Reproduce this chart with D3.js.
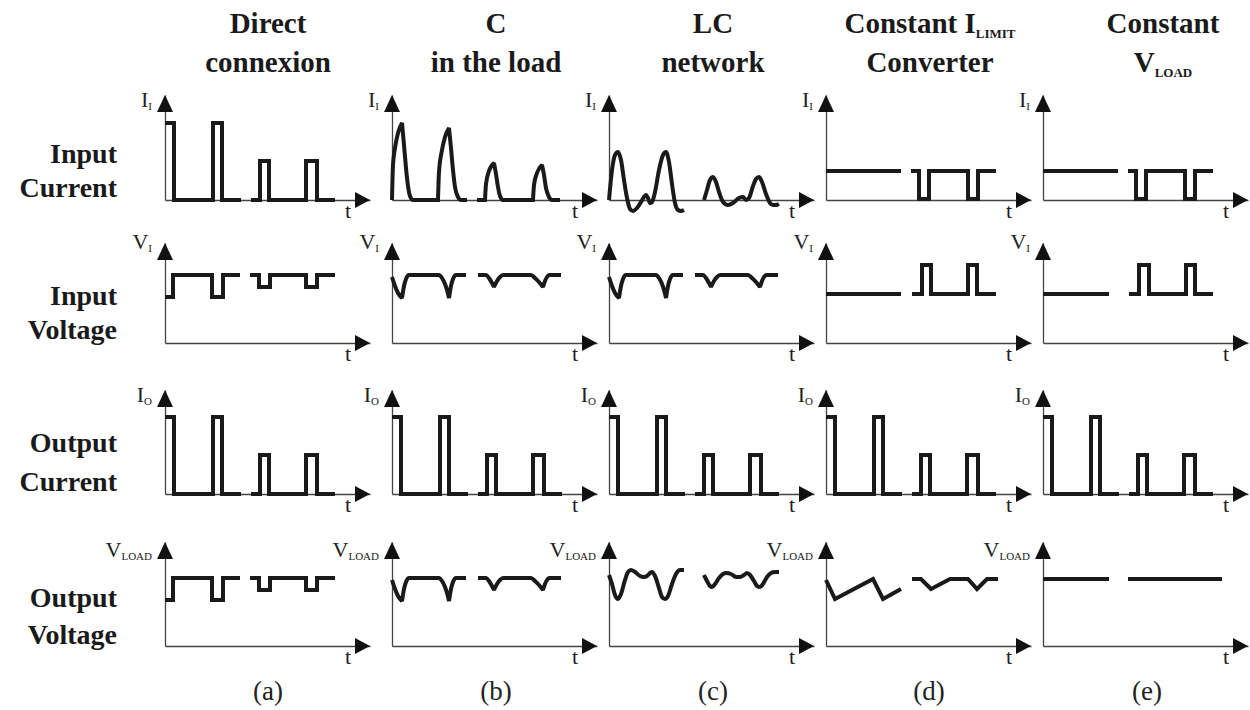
<!DOCTYPE html>
<html><head><meta charset="utf-8">
<script src="https://cdn.jsdelivr.net/npm/d3@7"></script>
<style>body{margin:0;background:#fff}</style>
</head><body><svg id="c" width="1250" height="710"></svg>
<script>
// ---------- data (offset along t, level, optional cusp flag) ----------
const columnTitles = [
  [["Direct",""],["connexion",""]],
  [["C",""],["in the load",""]],
  [["LC",""],["network",""]],
  [["Constant I","LIMIT"],["Converter",""]],
  [["Constant",""],["V","LOAD"]]
];
const rowTitles = [["Input","Current"],["Input","Voltage"],["Output","Current"],["Output","Voltage"]];
const yLabels = [["I","I"],["V","I"],["I","O"],["V","LOAD"]];
const panelLetters = ["(a)","(b)","(c)","(d)","(e)"];
const timeLabel = "t";

const pulseCurrent = [
  [[0,77],[9,77],[9,0],[48,0],[48,77],[57,77],[57,0],[76,0]],
  [[86,0],[95,0],[95,39],[104,39],[104,0],[141,0],[141,39],[152,39],[152,0],[170,0]]
];
const stepVoltage = [
  [[0,46],[8,46],[8,68],[47,68],[47,46],[58,46],[58,68],[75,68]],
  [[85,68],[94,68],[94,56],[105,56],[105,68],[141,68],[141,56],[152,56],[152,68],[170,68]]
];
const capCurrent = [
  [[0,0,1],[1,35],[3,52],[6,67],[10,77,1],[12,55],[14,32],[16,14],[18,4],[21,0],[46,0,1],[47,28],[50,50],[53,63],[57,72,1],[59,52],[61,30],[63,13],[66,3],[69,0],[75,0]],
  [[85,0],[93,0,1],[94,16],[97,29],[102,37,1],[104,26],[106,13],[108,4],[111,0],[141,0,1],[142,15],[145,27],[150,35,1],[152,25],[154,12],[157,3],[160,0],[168,0]]
];
const capVoltage = [
  [[0,66],[3,57],[6,50],[10,45,1],[12,57],[14,64],[17,68],[47,68],[50,65],[53,59],[55,53],[57,45,1],[59,57],[61,64],[64,68],[74,68]],
  [[86,68],[94,68],[97,65],[100,60],[102,56,1],[105,62],[108,66],[111,68],[139,68],[143,65],[147,61],[151,56,1],[153,62],[155,66],[157,68],[169,68]]
];
const lcCurrent = [
  [[0,0],[3,30],[6,45],[9,48],[12,40],[15,20],[18,2],[21,-9],[24,-11],[28,-8],[32,-2],[35,3],[37,5],[39,2],[41,-3],[43,-2],[46,8],[50,30],[54,45],[57,48],[60,38],[63,16],[66,-3],[69,-10],[72,-11],[75,-10]],
  [[95,0],[98,10],[101,20],[104,23],[107,18],[110,8],[114,-2],[119,-5],[124,-3],[130,2],[134,3],[137,0],[140,2],[144,14],[147,21],[150,23],[153,18],[157,6],[161,-3],[164,-5],[167,-5],[170,-4]]
];
const lcVoltage = [
  [[0,71],[3,62],[6,51],[9,47],[12,52],[16,66],[19,74],[22,76],[26,74],[31,70],[35,69],[38,70],[41,73],[43,74],[46,70],[50,58],[53,49],[56,47],[59,50],[63,62],[67,72],[71,76],[75,76]],
  [[95,71],[98,65],[101,60],[103,59],[106,62],[110,68],[114,72],[117,73],[122,72],[127,69],[131,69],[135,71],[138,73],[141,71],[145,65],[148,60],[151,59],[154,62],[158,69],[162,73],[166,74],[170,74]]
];
const limitCurrent = [
  [[0,29],[75,29]],
  [[85,29],[93,29],[93,1],[103,1],[103,29],[142,29],[142,1],[152,1],[152,29],[170,29]]
];
const limitVoltage = [
  [[0,49],[75,49]],
  [[86,49],[96,49],[96,78],[105,78],[105,49],[142,49],[142,78],[151,78],[151,49],[170,49]]
];
const limitLoadVoltage = [
  [[0,66],[9,47],[47,67],[57,47],[75,57]],
  [[86,67],[95,67],[105,57],[124,67],[142,67],[151,57],[161,67],[172,67]]
];
const constInputVoltage = [
  [[0,49],[66,49]],
  [[86,49],[96,49],[96,78],[106,78],[106,49],[143,49],[143,78],[152,78],[152,49],[170,49]]
];
const constLoadVoltage = [
  [[0,67],[66,67]],
  [[85,67],[179,67]]
];

const waveGrid = [
  [pulseCurrent, capCurrent, lcCurrent, limitCurrent, limitCurrent],
  [stepVoltage, capVoltage, capVoltage, limitVoltage, constInputVoltage],
  [pulseCurrent, pulseCurrent, pulseCurrent, pulseCurrent, pulseCurrent],
  [stepVoltage, capVoltage, lcVoltage, limitLoadVoltage, constLoadVoltage]
];
const smoothWaves = new Set([capCurrent, capVoltage, lcCurrent, lcVoltage]);

// ---------- layout ----------
const colX = [165, 392, 609, 826, 1043];
const rowBase = [200, 343, 494, 646];
const rowTop = [95, 243, 390, 542];
const axisSpan = 205;
const yLabelDy = [12, 6, 12, 15];
const titleX = [268, 496, 713, 930, 1163];
const titleY = [33, 72];
const rowTitleY = [[163,197],[305,339],[452,491],[607,644]];
const letterX = [268, 496, 713, 929, 1147];
const serif = "'Liberation Serif','Times New Roman',serif";

const svg = d3.select("#c");
svg.append("rect").attr("width",1250).attr("height",710).attr("fill","#fff");

// split a segment at cusp points, draw each piece smooth, join into one path
function segPath(seg, lineGen) {
  const pieces = [];
  let cur = [];
  seg.forEach((p, i) => {
    cur.push(p);
    if (p[2] && i > 0 && i < seg.length - 1) { pieces.push(cur); cur = [p]; }
  });
  if (cur.length) pieces.push(cur);
  return pieces.filter(pc => pc.length > 1)
    .map((pc, i) => { const d = lineGen(pc); return i ? d.replace(/^M/, "L") : d; })
    .join("");
}

waveGrid.forEach((row, r) => row.forEach((wave, c) => {
  const x0 = colX[c], base = rowBase[r], top = rowTop[r];
  const x = d3.scaleLinear().domain([0, axisSpan]).range([x0, x0 + axisSpan]);
  const y = d3.scaleLinear().domain([0, base - top]).range([base, top]);
  const g = svg.append("g");
  g.append("g").attr("transform", `translate(0,${base})`)
    .call(d3.axisBottom(x).tickValues([]).tickSizeOuter(0));
  g.append("g").attr("transform", `translate(${x0},0)`)
    .call(d3.axisLeft(y).tickValues([]).tickSizeOuter(0));
  g.selectAll(".domain").attr("stroke", "#444").attr("stroke-width", 1.3);
  const tipX = x(axisSpan), tipY = y(base - top);
  g.append("path").attr("d", `M${tipX},${base}L${tipX-15},${base-8}L${tipX-15},${base+8}Z`).attr("fill", "#111");
  g.append("path").attr("d", `M${x0},${tipY}L${x0-8},${tipY+17}L${x0+8},${tipY+17}Z`).attr("fill", "#111");

  const smooth = smoothWaves.has(wave);
  const line = d3.line().x(d => x(d[0])).y(d => y(d[1]))
    .curve(smooth ? d3.curveMonotoneX : d3.curveLinear);
  wave.forEach(seg => g.append("path").attr("d", segPath(seg, line))
    .attr("fill", "none").attr("stroke", "#1a1a1a").attr("stroke-width", 4)
    .attr("stroke-linejoin", "miter").attr("stroke-miterlimit", smooth ? 1.6 : 4)
    .attr("stroke-linecap", "butt"));

  const lab = g.append("text").attr("x", x0 - 13).attr("y", top + yLabelDy[r])
    .attr("text-anchor", "end").attr("font-family", serif).attr("font-size", 22)
    .attr("fill", "#222").text(yLabels[r][0]);
  lab.append("tspan").attr("font-size", 11).attr("dy", 3).text(yLabels[r][1]);

  g.append("text").attr("x", x(axisSpan) - 22).attr("y", base + 18)
    .attr("text-anchor", "middle").attr("font-family", serif).attr("font-size", 22)
    .attr("fill", "#222").text(timeLabel);
}));

columnTitles.forEach((lines, c) => lines.forEach((parts, i) => {
  const t = svg.append("text").attr("x", titleX[c]).attr("y", titleY[i])
    .attr("text-anchor", "middle").attr("font-family", serif).attr("font-weight", "bold")
    .attr("font-size", 29).attr("fill", "#1a1a1a").text(parts[0]);
  if (parts[1]) t.append("tspan").attr("font-size", 13).attr("dy", 5).text(parts[1]);
}));

rowTitles.forEach((lines, r) => lines.forEach((s, i) => {
  svg.append("text").attr("x", 117).attr("y", rowTitleY[r][i])
    .attr("text-anchor", "end").attr("font-family", serif).attr("font-weight", "bold")
    .attr("font-size", 28).attr("fill", "#1a1a1a").text(s);
}));

panelLetters.forEach((s, c) => {
  svg.append("text").attr("x", letterX[c]).attr("y", 700)
    .attr("text-anchor", "middle").attr("font-family", serif)
    .attr("font-size", 27).attr("fill", "#222").text(s);
});
</script></body></html>
